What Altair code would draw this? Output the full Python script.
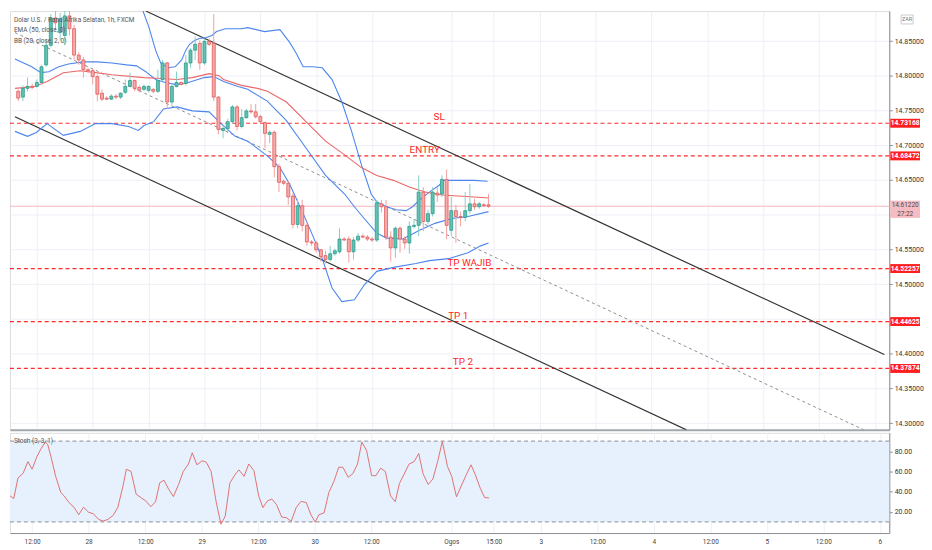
import altair as alt
import pandas as pd

# ---------------- data ----------------
bars = list(range(102))
opens = [14.7777, 14.7693, 14.7819, 14.7847, 14.7847, 14.7904, 14.8157, 14.8439, 14.8833, 14.8622,
         14.8580, 14.8862, 14.8678, 14.8298, 14.8228, 14.8087, 14.8073, 14.7988, 14.7749, 14.7678,
         14.7664, 14.7707, 14.7693, 14.7763, 14.7847, 14.7932, 14.7833, 14.7805, 14.7791, 14.7805,
         14.7777, 14.7946, 14.8185, 14.7622, 14.7847, 14.7904, 14.7890, 14.8185, 14.8369, 14.8467,
         14.8185, 14.8495, 14.8467, 14.7693, 14.7214, 14.7242, 14.7340, 14.7552, 14.7270, 14.7397,
         14.7495, 14.7481, 14.7411, 14.7326, 14.7157, 14.7185, 14.6692, 14.6481, 14.6453, 14.6270,
         14.5861, 14.6129, 14.5847, 14.5608, 14.5594, 14.5495, 14.5411, 14.5354, 14.5439, 14.5467,
         14.5650, 14.5650, 14.5467, 14.5636, 14.5692, 14.5678, 14.5650, 14.5636, 14.6157, 14.6115,
         14.5678, 14.5523, 14.5805, 14.5650, 14.5594, 14.5833, 14.5847, 14.6326, 14.5904, 14.6016,
         14.6312, 14.6298, 14.6509, 14.5777, 14.6059, 14.5974, 14.5960, 14.6059, 14.6157, 14.6115,
         14.6143, 14.6143]
closes = [14.7678, 14.7819, 14.7847, 14.7833, 14.7904, 14.8129, 14.8439, 14.8833, 14.8763, 14.8819,
          14.8862, 14.8678, 14.8298, 14.8228, 14.8087, 14.8073, 14.7988, 14.7735, 14.7664, 14.7664,
          14.7707, 14.7693, 14.7749, 14.7847, 14.7932, 14.7819, 14.7791, 14.7847, 14.7847, 14.7777,
          14.7932, 14.8185, 14.7622, 14.7847, 14.7904, 14.7876, 14.8185, 14.8369, 14.8453, 14.8185,
          14.8495, 14.8453, 14.7693, 14.7228, 14.7242, 14.7340, 14.7552, 14.7270, 14.7397, 14.7495,
          14.7481, 14.7411, 14.7340, 14.7171, 14.7185, 14.6692, 14.6467, 14.6453, 14.6256, 14.5861,
          14.6129, 14.5847, 14.5608, 14.5594, 14.5495, 14.5397, 14.5354, 14.5439, 14.5481, 14.5650,
          14.5636, 14.5467, 14.5636, 14.5692, 14.5678, 14.5650, 14.5636, 14.6171, 14.6115, 14.5678,
          14.5523, 14.5805, 14.5650, 14.5594, 14.5833, 14.5847, 14.6326, 14.5904, 14.6016, 14.6326,
          14.6284, 14.6509, 14.5847, 14.6059, 14.5974, 14.5960, 14.6059, 14.6157, 14.6115, 14.6157,
          14.6129, 14.6122]
highs = [14.7805, 14.7862, 14.7974, 14.7890, 14.7946, 14.8157, 14.8509, 14.8890, 14.8960, 14.8904,
         14.8950, 14.8932, 14.8735, 14.8340, 14.8270, 14.8115, 14.8101, 14.8016, 14.7805, 14.7707,
         14.7735, 14.7735, 14.7763, 14.7946, 14.8045, 14.7946, 14.7862, 14.7876, 14.7862, 14.7819,
         14.8087, 14.8228, 14.8200, 14.7890, 14.8059, 14.7918, 14.8298, 14.8397, 14.8566, 14.8509,
         14.8538, 14.8538, 14.8890, 14.7707, 14.7270, 14.7383, 14.7580, 14.7580, 14.7523, 14.7523,
         14.7594, 14.7594, 14.7439, 14.7340, 14.7214, 14.7214, 14.6735, 14.6509, 14.6481, 14.6312,
         14.6228, 14.6214, 14.5876, 14.5636, 14.5622, 14.5509, 14.5481, 14.5552, 14.5509, 14.5805,
         14.5678, 14.5692, 14.5678, 14.5735, 14.5721, 14.5707, 14.5678, 14.6214, 14.6214, 14.6214,
         14.5763, 14.5833, 14.5833, 14.5692, 14.5904, 14.5932, 14.6566, 14.6397, 14.6073, 14.6397,
         14.6397, 14.6566, 14.6650, 14.6256, 14.6143, 14.6045, 14.6326, 14.6439, 14.6228, 14.6185,
         14.6171, 14.6298]
lows = [14.7636, 14.7636, 14.7777, 14.7805, 14.7833, 14.7876, 14.8129, 14.8411, 14.8650, 14.8509,
        14.8439, 14.8580, 14.8228, 14.8157, 14.7974, 14.8045, 14.7876, 14.7636, 14.7636, 14.7650,
        14.7650, 14.7664, 14.7664, 14.7735, 14.7833, 14.7777, 14.7763, 14.7777, 14.7763, 14.7749,
        14.7749, 14.7918, 14.7523, 14.7580, 14.7833, 14.7862, 14.7862, 14.8115, 14.8228, 14.8087,
        14.8157, 14.8425, 14.7636, 14.7157, 14.7101, 14.7171, 14.7312, 14.7214, 14.7242, 14.7383,
        14.7453, 14.7383, 14.7312, 14.6960, 14.7031, 14.6538, 14.6326, 14.6425, 14.6143, 14.5805,
        14.5805, 14.5763, 14.5552, 14.5552, 14.5453, 14.5326, 14.5298, 14.5326, 14.5411, 14.5439,
        14.5622, 14.5312, 14.5354, 14.5608, 14.5664, 14.5622, 14.5608, 14.5608, 14.6031, 14.5636,
        14.5326, 14.5383, 14.5453, 14.5509, 14.5439, 14.5805, 14.5692, 14.5763, 14.5861, 14.5974,
        14.6185, 14.6256, 14.5650, 14.5692, 14.5594, 14.5833, 14.5904, 14.6016, 14.6073, 14.6087,
        14.6115, 14.6101]

ema_bar = [-0.7, 3.5, 6.2, 9.7, 13.3, 16.6, 20.1, 27.0, 30.6, 34.1, 37.4, 41.0, 43.1, 44.1, 47.9,
           51.4, 53.5, 57.6, 61.8, 66.0, 70.1, 73.7, 77.0, 80.6, 84.1, 87.4, 91.0, 94.5, 97.9, 101.0]
ema_val = [14.7819, 14.7847, 14.7918, 14.8045, 14.8073, 14.8045, 14.8016, 14.7974, 14.7960, 14.7946,
           14.7974, 14.8031, 14.8002, 14.7946, 14.7862, 14.7819, 14.7777, 14.7622, 14.7340, 14.7059,
           14.6862, 14.6679, 14.6566, 14.6495, 14.6397, 14.6326, 14.6284, 14.6270, 14.6256, 14.6242]

bb_upper_bar = [-0.7, 5.6, 11.8, 20.1, 25.4, 26.8, 28.1, 29.5, 30.6, 32.2, 33.7, 35.1, 36.0, 36.8,
                37.9, 38.9, 40.4, 41.6, 42.6, 44.5, 47.9, 49.3, 52.9, 56.2, 58.3, 59.7, 61.2, 63.3,
                65.3, 67.4, 69.5, 71.6, 73.7, 75.8, 77.0, 79.1, 81.2, 83.3, 84.7, 86.2, 88.3, 90.4,
                91.4, 93.7, 97.9, 100.8]
bb_upper_val = [14.9495, 14.9636, 14.9777, 14.9495, 14.9073, 14.8932, 14.8693, 14.8369, 14.8185,
                14.8115, 14.8129, 14.8228, 14.8369, 14.8453, 14.8509, 14.8538, 14.8552, 14.8580,
                14.8636, 14.8678, 14.8678, 14.8693, 14.8636, 14.8664, 14.8481, 14.8326, 14.8129,
                14.8129, 14.8115, 14.7946, 14.7622, 14.7200, 14.6721, 14.6298, 14.6185, 14.6115,
                14.6073, 14.6059, 14.6115, 14.6214, 14.6326, 14.6425, 14.6495, 14.6495, 14.6495,
                14.6481]
bb_basis_bar = [-0.7, 2.9, 4.9, 6.6, 8.7, 10.8, 13.9, 17.0, 20.1, 23.3, 25.4, 27.4, 29.5, 31.6,
                33.7, 35.8, 37.9, 39.9, 42.0, 44.1, 47.2, 49.3, 53.5, 57.6, 61.8, 66.0, 70.1, 72.2,
                74.3, 77.0, 79.1, 82.6, 86.2, 89.5, 93.1, 96.6, 101.0]
bb_basis_val = [14.8242, 14.8129, 14.8045, 14.8059, 14.8129, 14.8171, 14.8200, 14.8200, 14.8185,
                14.8157, 14.8143, 14.8059, 14.7946, 14.7904, 14.7876, 14.7890, 14.7932, 14.7974,
                14.7988, 14.7918, 14.7847, 14.7805, 14.7636, 14.7354, 14.6960, 14.6566, 14.6298,
                14.6115, 14.5946, 14.5735, 14.5664, 14.5650, 14.5777, 14.5876, 14.5946, 14.5974,
                14.6045]
bb_lower_bar = [-0.7, 2.0, 3.9, 6.2, 9.7, 13.3, 16.6, 20.1, 23.7, 25.8, 27.0, 29.1, 31.2, 34.1,
                37.4, 41.0, 43.1, 46.6, 49.3, 53.5, 56.2, 58.3, 61.2, 63.3, 65.3, 67.4, 69.5, 72.2,
                74.3, 77.0, 80.6, 85.4, 88.3, 92.4, 96.6, 99.3, 101.0]
bb_lower_val = [14.7200, 14.7129, 14.7185, 14.7312, 14.7143, 14.7200, 14.7312, 14.7312, 14.7270,
                14.7214, 14.7284, 14.7340, 14.7523, 14.7552, 14.7495, 14.7481, 14.7340, 14.7129,
                14.7059, 14.6847, 14.6679, 14.6439, 14.6016, 14.5692, 14.5368, 14.4946, 14.4749,
                14.4777, 14.4988, 14.5185, 14.5242, 14.5298, 14.5340, 14.5368, 14.5453, 14.5552,
                14.5594]

channel_name = ["upper", "upper", "lower", "lower", "mid", "mid"]
channel_bar = [27.4, 186.0, -0.7, 143.5, -0.7, 181.6]
channel_price = [14.8932, 14.3988, 14.7411, 14.2904, 14.8622, 14.2904]

level_names = ["SL", "ENTRY", "TP WAJIB", "TP 1", "TP 2"]
level_prices = [14.73168, 14.68472, 14.52257, 14.44625, 14.37874]
level_label_bar = [90.4, 87.3, 96.9, 94.5, 95.5]

last_price = 14.61220
countdown = "27:22"

stoch_bar = [-0.7, 0.1, 1.0, 2.1, 3.1, 4.0, 5.0, 5.9, 6.8, 7.3,
             8.0, 9.0, 10.1, 10.8, 11.8, 12.9, 13.9, 14.9, 16.0, 17.0,
             18.1, 19.1, 20.1, 21.2, 22.2, 23.3, 24.0, 25.0, 26.1, 27.1,
             28.1, 29.2, 30.2, 31.1, 32.0, 33.0, 34.0, 35.1, 36.1, 37.2,
             38.0, 39.0, 40.1, 41.0, 42.0, 43.1, 44.1, 45.0, 46.0, 47.1,
             47.9, 49.0, 50.0, 51.1, 52.1, 53.0, 54.0, 54.9, 55.9, 57.0,
             58.0, 59.0, 60.1, 61.1, 62.2, 63.2, 64.1, 64.9, 66.0, 67.0,
             68.1, 69.1, 70.0, 71.1, 72.1, 73.1, 74.0, 75.0, 76.1, 77.0,
             78.0, 79.0, 80.1, 81.1, 82.0, 83.0, 84.0, 85.1, 86.1, 87.0,
             88.1, 89.1, 90.1, 91.1, 92.2, 93.1, 94.1, 95.1, 96.2, 97.2,
             98.1, 99.2, 100.1, 101.0]
stoch_val = [35.8, 33.2, 53.5, 58.3, 69.7, 62.2, 74.5, 82.5, 89.0, 86.8,
             74.5, 55.1, 39.0, 35.8, 29.3, 24.5, 17.1, 24.5, 19.6, 18.1,
             12.5, 10.9, 12.5, 16.4, 24.5, 45.5, 62.2, 60.0, 37.4, 34.1,
             30.9, 25.1, 30.0, 48.7, 51.3, 42.3, 35.1, 47.1, 60.0, 67.4,
             78.4, 66.5, 70.6, 69.0, 60.0, 29.3, 7.7, 15.7, 48.7, 56.8,
             61.6, 55.1, 67.4, 60.7, 35.8, 24.2, 30.9, 32.6, 27.1, 14.8,
             14.2, 10.6, 24.5, 30.3, 29.3, 17.1, 9.9, 17.1, 19.0, 39.0,
             50.3, 64.1, 64.1, 54.2, 57.8, 67.4, 89.0, 81.0, 55.8, 55.8,
             63.2, 60.0, 35.8, 30.0, 48.1, 57.4, 67.0, 69.7, 77.7, 57.8,
             47.1, 52.5, 69.7, 89.7, 64.8, 55.1, 34.8, 45.5, 56.8, 66.5,
             56.8, 42.8, 34.1, 33.8]
stoch_band_values = [10, 90]

price_ticks = [14.30, 14.35, 14.40, 14.45, 14.50, 14.55, 14.60, 14.65, 14.70, 14.75, 14.80, 14.85]
price_ticks_hidden = [14.45, 14.60]   # covered by the price boxes on the scale
stoch_ticks = [20, 40, 60, 80]
time_tick_bar = [4, 16, 28, 40, 52, 64, 76, 93, 102, 112, 124, 136, 148, 160, 172, 184]
time_tick_label = ["12:00", "28", "12:00", "29", "12:00", "30", "12:00", "Ogos", "15:00",
                   "3", "12:00", "4", "12:00", "5", "12:00", "6"]

legend_lines = ["Dolar U.S. / Rand Afrika Selatan, 1h, FXCM", "EMA (50, close, 0)", "BB (20, close, 2, 0)"]
stoch_title = "Stoch (3, 3, 1)"
currency = "ZAR"

# ---------------- layout / style ----------------
W, H1, H2 = 886, 422, 101
FONT = "Roboto"
GRID = "#edf0f6"
AXC = "#8a8d96"

candles = pd.DataFrame({"bar": bars, "open": opens, "close": closes, "high": highs, "low": lows})
candles["dir"] = ["up" if c >= o else "down" for o, c in zip(opens, closes)]

bands = pd.concat([
    pd.DataFrame({"band": "upper", "bar": bb_upper_bar, "price": bb_upper_val}),
    pd.DataFrame({"band": "basis", "bar": bb_basis_bar, "price": bb_basis_val}),
    pd.DataFrame({"band": "lower", "bar": bb_lower_bar, "price": bb_lower_val}),
])
ema = pd.DataFrame({"bar": ema_bar, "price": ema_val})
chan = pd.DataFrame({"line": channel_name, "bar": channel_bar, "price": channel_price})
levels = pd.DataFrame({"name": level_names, "price": level_prices, "lbar": level_label_bar})
cur = pd.DataFrame({"price": [last_price], "cd": [countdown]})
stoch = pd.DataFrame({"bar": stoch_bar, "k": stoch_val})
sbands = pd.DataFrame({"v": stoch_band_values})
sshade = pd.DataFrame({"lo": [min(stoch_band_values)], "hi": [max(stoch_band_values)]})
one = pd.DataFrame({"a": [0]})

xscale = alt.Scale(domain=[-0.7, 186.0], nice=False, zero=False)
pscale = alt.Scale(domain=[14.2904, 14.8932], nice=False, zero=False)
sscale = alt.Scale(domain=[-1.0, 98.2], nice=False, zero=False)

label_expr = " : ".join(f"datum.value == {b} ? '{l}'" for b, l in zip(time_tick_bar, time_tick_label)) + " : ''"
hidden_expr = " || ".join(f"abs(datum.value - {v}) < 0.0001" for v in price_ticks_hidden)
price_label_expr = f"({hidden_expr}) ? '' : format(datum.value, '.5f')"

x_top_axis = alt.Axis(values=time_tick_bar, labels=False, ticks=False, domain=True,
                      domainColor="#a3a6af", domainWidth=2, grid=True, gridColor=GRID, title=None)
x_bot_axis = alt.Axis(values=time_tick_bar, labelExpr=label_expr, labelFont=FONT, labelFontSize=6.5,
                      labelColor="#444", ticks=False, domain=True, domainColor=AXC, grid=True,
                      gridColor=GRID, labelPadding=6, labelFlush=False, labelOverlap=False, title=None)
p_axis = alt.Axis(orient="right", values=price_ticks, labelExpr=price_label_expr, labelFont=FONT,
                  labelFontSize=7, labelColor="#333", tickSize=3, tickColor=AXC, domainColor=AXC, grid=True,
                  gridColor=GRID, labelPadding=2, labelOverlap=False, labelFlush=False, title=None)
s_axis = alt.Axis(orient="right", values=stoch_ticks, format=".2f", labelFont=FONT, labelFontSize=7,
                  labelColor="#333", tickSize=3, tickColor=AXC, domainColor=AXC, grid=True,
                  gridColor=GRID, labelPadding=2, title=None)


def X(f):
    return alt.X(f, type="quantitative", scale=xscale, axis=x_top_axis)


def XS(f):
    return alt.X(f, type="quantitative", scale=xscale, axis=x_bot_axis)


def P(f):
    return alt.Y(f, type="quantitative", scale=pscale, axis=p_axis)


def S(f):
    return alt.Y(f, type="quantitative", scale=sscale, axis=s_axis)


# ---------------- price panel ----------------
level_rules = alt.Chart(levels).mark_rule(color="#ff2b2b", strokeDash=[4, 3], strokeWidth=1.2).encode(y=P("price"))
cur_line = alt.Chart(cur).mark_rule(color="#f4b6bd", strokeWidth=1).encode(y=P("price"))

chan_solid = alt.Chart(chan).transform_filter("datum.line != 'mid'").mark_line(
    color="#333333", strokeWidth=1.2, clip=True).encode(x=X("bar"), y=P("price"), detail="line:N")
chan_mid = alt.Chart(chan).transform_filter("datum.line == 'mid'").mark_line(
    color="#8e8e8e", strokeDash=[3, 3], strokeWidth=1, clip=True).encode(x=X("bar"), y=P("price"))

bb = alt.Chart(bands).mark_line(color="#4c86ee", strokeWidth=1.1, clip=True).encode(
    x=X("bar"), y=P("price"), detail="band:N")
ema_line = alt.Chart(ema).mark_line(color="#ec6767", strokeWidth=1.1, clip=True).encode(x=X("bar"), y=P("price"))

wicks = alt.Chart(candles).mark_rule(strokeWidth=1, clip=True).encode(
    x=X("bar"), y=P("low"), y2="high",
    color=alt.Color("dir:N", scale=alt.Scale(domain=["up", "down"], range=["#86cfc4", "#f2a0a0"]), legend=None))
bodies = alt.Chart(candles).mark_bar(width=3.0, strokeWidth=0.8, clip=True).encode(
    x=X("bar"), y=P("open"), y2="close",
    fill=alt.Fill("dir:N", scale=alt.Scale(domain=["up", "down"], range=["#62c1b3", "#f7aaaa"]), legend=None),
    stroke=alt.Stroke("dir:N", scale=alt.Scale(domain=["up", "down"], range=["#2b9c8d", "#e25a5a"]), legend=None))

level_text = alt.Chart(levels).mark_text(font=FONT, fontSize=10, color="#ff1f1f", baseline="bottom",
                                         dy=-1, align="center").encode(x=X("lbar"), y=P("price"), text="name:N")

BOX = "M-1,-0.3L1,-0.3L1,0.3L-1,0.3Z"
level_box = alt.Chart(levels).mark_point(shape=BOX, filled=True, size=900, color="#ff1f1f", opacity=1).encode(
    x=alt.value(W + 16), y=P("price"))
level_box_text = alt.Chart(levels).mark_text(font=FONT, fontSize=6.8, fontWeight="bold", color="white",
                                             align="center", baseline="middle").encode(
    x=alt.value(W + 16), y=P("price"), text=alt.Text("price:Q", format=".5f"))

PBOX = "M-1,-0.38L1,-0.38L1,0.78L-1,0.78Z"
cur_box = alt.Chart(cur).mark_point(shape=PBOX, filled=True, size=900, color="#f6bcc3", opacity=1).encode(
    x=alt.value(W + 16), y=P("price"))
cur_text = alt.Chart(cur).mark_text(font=FONT, fontSize=6.5, color="#4a4a4a", align="center",
                                    baseline="middle", dy=-1).encode(
    x=alt.value(W + 16), y=P("price"), text=alt.Text("price:Q", format=".5f"))
cur_cd = alt.Chart(cur).mark_text(font=FONT, fontSize=6.5, color="#4a4a4a", align="center",
                                  baseline="middle", dy=8).encode(
    x=alt.value(W + 16), y=P("price"), text="cd:N")

legend_text = alt.Chart(one).mark_text(font=FONT, fontSize=6.5, color="#555", align="left", baseline="top",
                                       lineHeight=10.5).encode(
    x=alt.value(4), y=alt.value(6), text=alt.value(legend_lines))

ZBOX = "M-1,-0.75L1,-0.75L1,0.75L-1,0.75Z"
zar_box = alt.Chart(one).mark_point(shape=ZBOX, filled=False, size=144, color="#c9cbd1", strokeWidth=1,
                                    opacity=1).encode(x=alt.value(W + 18), y=alt.value(8.5))
zar_text = alt.Chart(one).mark_text(font=FONT, fontSize=5.5, color="#777", align="center",
                                    baseline="middle").encode(x=alt.value(W + 18), y=alt.value(8.5),
                                                              text=alt.value(currency))

price_chart = alt.layer(
    level_rules, cur_line, chan_mid, chan_solid, bb, ema_line, wicks, bodies,
    level_text, level_box, level_box_text, cur_box, cur_text, cur_cd, legend_text, zar_box, zar_text
).properties(width=W, height=H1)

# ---------------- stochastic panel ----------------
shade = alt.Chart(sshade).mark_rect(color="#e6f1fd").encode(
    x=alt.value(0), x2=alt.value(W), y=S("lo"), y2="hi")
srules = alt.Chart(sbands).mark_rule(color="#8c8f98", strokeDash=[4, 3], strokeWidth=1).encode(y=S("v"))
sline = alt.Chart(stoch).mark_line(color="#e07272", strokeWidth=1, clip=True).encode(x=XS("bar"), y=S("k"))
stitle = alt.Chart(one).mark_text(font=FONT, fontSize=6.5, color="#555", align="left", baseline="middle").encode(
    x=alt.value(4), y=alt.value(8), text=alt.value(stoch_title))

stoch_chart = alt.layer(shade, srules, sline, stitle).properties(width=W, height=H2)

chart = alt.vconcat(price_chart, stoch_chart, spacing=1).properties(
    padding={"left": 0, "top": 0, "right": 0, "bottom": 0}
).configure_view(stroke=None).configure(background="white")

chart.save("out.html", embed_options={"renderer": "svg", "actions": False})
